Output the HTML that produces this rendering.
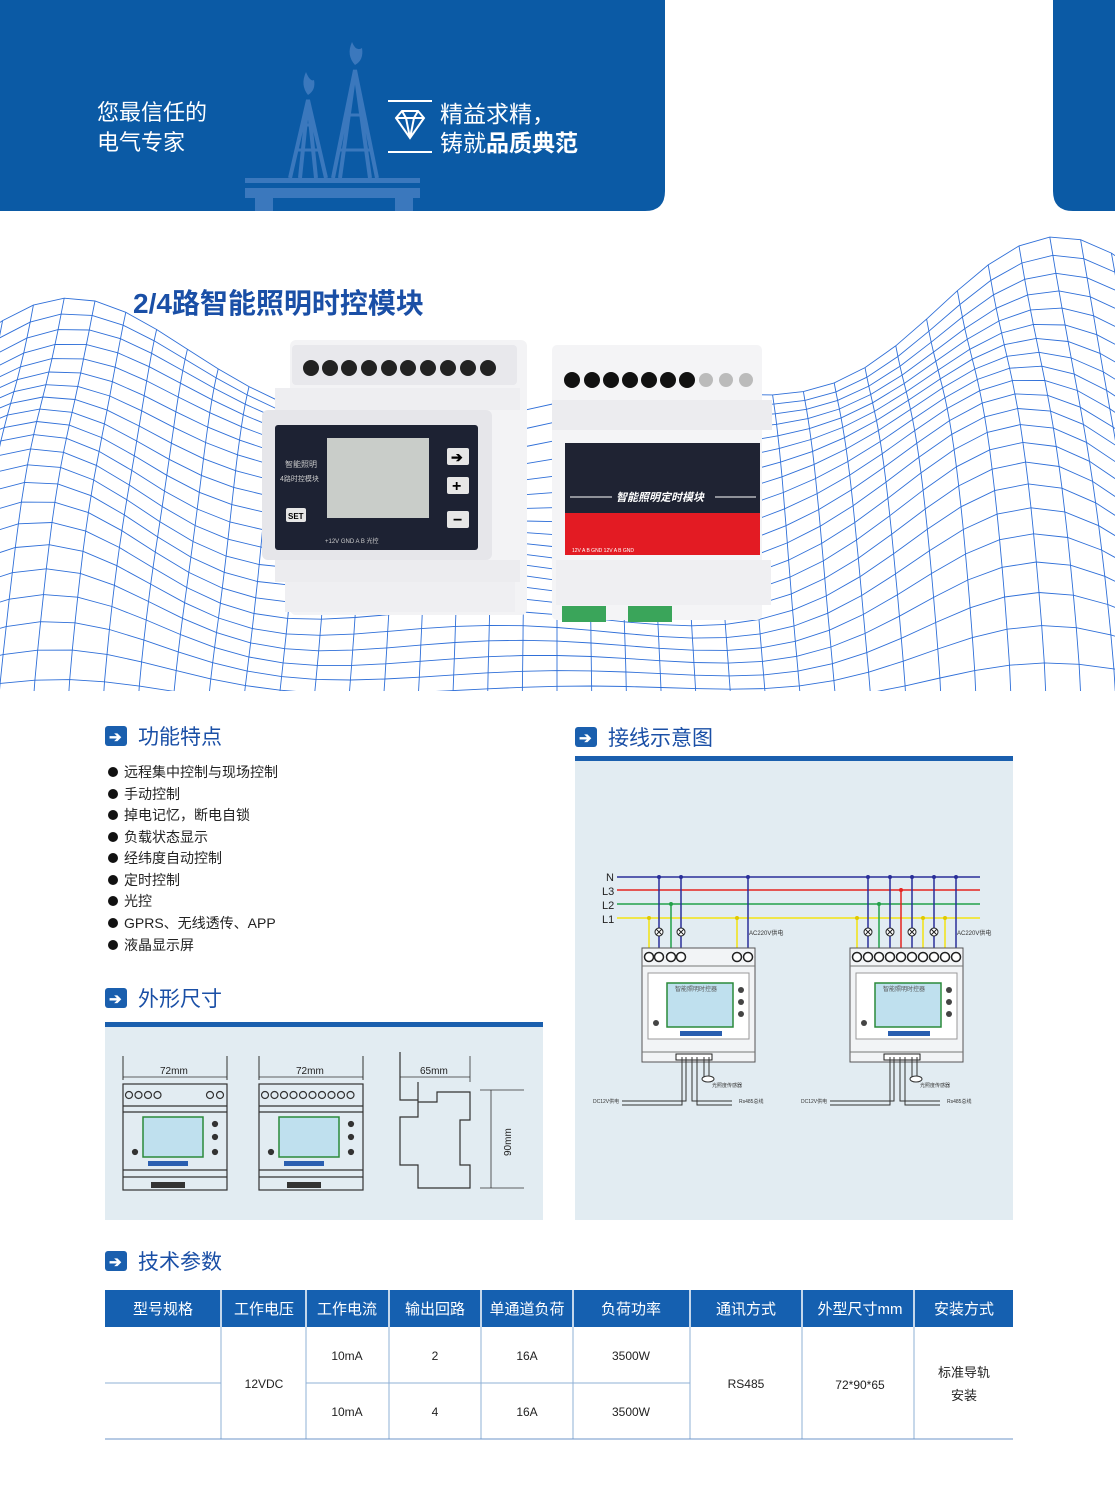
<!DOCTYPE html>
<html><head><meta charset="utf-8"><style>
html,body{margin:0;padding:0;background:#fff}
svg{display:block}
text{font-family:"Liberation Sans","Noto Sans CJK SC",sans-serif}
</style></head><body>
<svg id="s" width="1115" height="1500" viewBox="0 0 1115 1500" xmlns="http://www.w3.org/2000/svg">
<rect width="1115" height="1500" fill="#fff"/>
<path d="M0 0H665V191Q665 211 645 211H0Z" fill="#0b5aa5"/>
<path d="M1053 0H1115V211H1073Q1053 211 1053 191Z" fill="#0b5aa5"/>
<text x="97" y="120" fill="#fff" font-size="22">您最信任的</text>
<text x="97" y="150" fill="#fff" font-size="22">电气专家</text>
<g fill="#3b78bd" stroke="#3b78bd">
<rect x="245" y="188" width="175" height="10" stroke="none"/>
<rect x="255" y="198" width="18" height="13" stroke="none"/><rect x="395" y="198" width="18" height="13" stroke="none"/>
<rect x="245" y="178" width="175" height="5" stroke="none"/>
<path d="M300 178L308 100L316 178M290 178L308 100L326 178" fill="none" stroke-width="4"/>
<path d="M340 178L355 70L370 178M333 178L355 70L377 178" fill="none" stroke-width="4"/>
<path d="M296 150H320M302 125H314M338 150H372M345 115H365" stroke-width="3"/>
<path d="M308 95Q300 85 306 72Q310 82 314 80Q316 90 308 95Z" stroke="none"/>
<path d="M355 65Q346 55 352 42Q356 52 362 48Q364 60 355 65Z" stroke="none"/>
</g>
<g stroke="#fff" fill="none" stroke-width="2">
<line x1="388" y1="101" x2="432" y2="101"/><line x1="388" y1="152" x2="432" y2="152"/>
<path d="M396 118L402 111H418L424 118L410 138Z M396 118H424 M402 111L406 118L410 138L414 118L418 111"/>
</g>
<text x="440" y="122" fill="#fff" font-size="23">精益求精，</text>
<text x="440" y="151" fill="#fff" font-size="23">铸就<tspan font-weight="bold">品质典范</tspan></text>
<g id="mesh" fill="none" stroke="#2f6fd8" stroke-width="0.9"></g>
<text x="133" y="313" fill="#1a4fa6" font-size="28" font-weight="bold">2/4路智能照明时控模块</text>
<g>
<rect x="290" y="340" width="237" height="275" rx="6" fill="#f3f3f5"/>
<rect x="292" y="345" width="225" height="40" rx="4" fill="#e8e8ec"/>
<g fill="#222">
<circle cx="311" cy="368" r="8"/><circle cx="330" cy="368" r="8"/><circle cx="349" cy="368" r="8"/><circle cx="369" cy="368" r="8"/><circle cx="389" cy="368" r="8"/><circle cx="408" cy="368" r="8"/><circle cx="428" cy="368" r="8"/><circle cx="448" cy="368" r="8"/><circle cx="468" cy="368" r="8"/><circle cx="488" cy="368" r="8"/></g>
<rect x="275" y="388" width="245" height="22" fill="#eeeef1"/>
<rect x="262" y="410" width="230" height="150" rx="6" fill="#e6e6ea"/>
<rect x="275" y="425" width="203" height="125" rx="3" fill="#1d2233"/>
<rect x="327" y="438" width="102" height="80" fill="#c9cdc9"/>
<text x="285" y="467" fill="#ccc" font-size="8">智能照明</text>
<text x="280" y="481" fill="#ccc" font-size="7">4路时控模块</text>
<rect x="286" y="508" width="20" height="14" rx="2" fill="#e6e6e6"/><text x="288" y="519" font-size="8" font-weight="bold">SET</text>
<rect x="447" y="448" width="22" height="17" rx="2" fill="#e6e6e6"/><rect x="447" y="477" width="22" height="17" rx="2" fill="#e6e6e6"/><rect x="447" y="511" width="22" height="17" rx="2" fill="#e6e6e6"/>
<text x="451" y="462" font-size="14" font-weight="bold">➔</text><text x="452" y="491" font-size="16" font-weight="bold">+</text><text x="453" y="525" font-size="16" font-weight="bold">−</text>
<text x="325" y="543" fill="#ccc" font-size="6">+12V GND  A  B     光控</text>
<rect x="275" y="560" width="245" height="22" fill="#ececef"/>
<rect x="285" y="582" width="230" height="30" fill="#efeff2"/>
</g>
<g>
<rect x="552" y="345" width="210" height="275" rx="5" fill="#f4f4f6"/>
<g fill="#111"><circle cx="572" cy="380" r="8"/><circle cx="592" cy="380" r="8"/><circle cx="611" cy="380" r="8"/><circle cx="630" cy="380" r="8"/><circle cx="649" cy="380" r="8"/><circle cx="668" cy="380" r="8"/><circle cx="687" cy="380" r="8"/></g>
<circle cx="706" cy="380" r="7" fill="#bbb"/><circle cx="726" cy="380" r="7" fill="#bbb"/><circle cx="746" cy="380" r="7" fill="#bbb"/>
<rect x="552" y="400" width="220" height="30" fill="#ececef"/>
<rect x="565" y="443" width="195" height="70" fill="#1f2333"/>
<rect x="565" y="513" width="195" height="42" fill="#e31b23"/>
<line x1="570" y1="497" x2="612" y2="497" stroke="#fff"/><line x1="715" y1="497" x2="756" y2="497" stroke="#fff"/>
<text x="616" y="501" fill="#fff" font-size="11" font-weight="bold" font-style="italic">智能照明定时模块</text>
<text x="572" y="552" fill="#fff" font-size="5">12V  A   B  GND      12V  A   B  GND</text>
<rect x="556" y="560" width="215" height="45" fill="#efeff2"/>
<rect x="562" y="606" width="44" height="16" fill="#3aa55a"/><rect x="628" y="606" width="44" height="16" fill="#3aa55a"/>
</g>
<g font-size="21" fill="#1a4fa6">
<rect x="105" y="726" width="22" height="20" rx="3" fill="#1a5fae"/><text x="109" y="742" fill="#fff" font-size="15" font-weight="bold">➔</text><text x="138" y="744">功能特点</text>
<rect x="105" y="988" width="22" height="20" rx="3" fill="#1a5fae"/><text x="109" y="1004" fill="#fff" font-size="15" font-weight="bold">➔</text><text x="138" y="1006">外形尺寸</text>
<rect x="575" y="727" width="22" height="20" rx="3" fill="#1a5fae"/><text x="579" y="743" fill="#fff" font-size="15" font-weight="bold">➔</text><text x="608" y="745">接线示意图</text>
<rect x="105" y="1251" width="22" height="20" rx="3" fill="#1a5fae"/><text x="109" y="1267" fill="#fff" font-size="15" font-weight="bold">➔</text><text x="138" y="1269">技术参数</text>
</g>
<g font-size="14" fill="#222">
<g fill="#111"><circle cx="113" cy="772" r="5"/><circle cx="113" cy="794" r="5"/><circle cx="113" cy="815" r="5"/><circle cx="113" cy="837" r="5"/><circle cx="113" cy="858" r="5"/><circle cx="113" cy="880" r="5"/><circle cx="113" cy="901" r="5"/><circle cx="113" cy="923" r="5"/><circle cx="113" cy="945" r="5"/></g>
<text x="124" y="777">远程集中控制与现场控制</text>
<text x="124" y="799">手动控制</text>
<text x="124" y="820">掉电记忆，断电自锁</text>
<text x="124" y="842">负载状态显示</text>
<text x="124" y="863">经纬度自动控制</text>
<text x="124" y="885">定时控制</text>
<text x="124" y="906">光控</text>
<text x="124" y="928">GPRS、无线透传、APP</text>
<text x="124" y="950">液晶显示屏</text>
</g>
<rect x="105" y="1022" width="438" height="5" fill="#1a5fae"/>
<rect x="105" y="1027" width="438" height="193" fill="#e2ecf2"/>
<g id="dims" stroke="#333" fill="none" stroke-width="1.2"></g>
<text x="160" y="1074" font-size="10" fill="#222">72mm</text>
<text x="296" y="1074" font-size="10" fill="#222">72mm</text>
<text x="420" y="1074" font-size="10" fill="#222">65mm</text>
<text x="0" y="0" font-size="10" fill="#222" transform="translate(511 1156) rotate(-90)">90mm</text>
<rect x="575" y="756" width="438" height="5" fill="#1a5fae"/>
<rect x="575" y="761" width="438" height="459" fill="#e2ecf2"/>
<g id="wire"></g>
<g font-size="11" fill="#222"><text x="606" y="881">N</text><text x="602" y="895">L3</text><text x="602" y="909">L2</text><text x="602" y="923">L1</text></g>
<rect x="105" y="1290" width="908" height="37" fill="#1560b0"/>
<g font-size="15" fill="#fff" text-anchor="middle">
<text x="163" y="1314">型号规格</text><text x="264" y="1314">工作电压</text><text x="347" y="1314">工作电流</text><text x="435" y="1314">输出回路</text><text x="527" y="1314">单通道负荷</text><text x="631" y="1314">负荷功率</text><text x="746" y="1314">通讯方式</text><text x="860" y="1314">外型尺寸mm</text><text x="964" y="1314">安装方式</text>
</g>
<g stroke="#fff" stroke-width="1.5"><line x1="221" y1="1290" x2="221" y2="1327"/><line x1="306" y1="1290" x2="306" y2="1327"/><line x1="389" y1="1290" x2="389" y2="1327"/><line x1="481" y1="1290" x2="481" y2="1327"/><line x1="573" y1="1290" x2="573" y2="1327"/><line x1="690" y1="1290" x2="690" y2="1327"/><line x1="802" y1="1290" x2="802" y2="1327"/><line x1="914" y1="1290" x2="914" y2="1327"/></g>
<g stroke="#8fb0d6" stroke-width="1">
<line x1="221" y1="1327" x2="221" y2="1439"/><line x1="306" y1="1327" x2="306" y2="1439"/><line x1="389" y1="1327" x2="389" y2="1439"/><line x1="481" y1="1327" x2="481" y2="1439"/><line x1="573" y1="1327" x2="573" y2="1439"/><line x1="690" y1="1327" x2="690" y2="1439"/><line x1="802" y1="1327" x2="802" y2="1439"/><line x1="914" y1="1327" x2="914" y2="1439"/>
<line x1="105" y1="1383" x2="221" y2="1383"/><line x1="306" y1="1383" x2="690" y2="1383"/>
<line x1="105" y1="1439" x2="1013" y2="1439" stroke="#6d95c9"/>
</g>
<g font-size="12" fill="#222" text-anchor="middle">
<text x="347" y="1360">10mA</text><text x="435" y="1360">2</text><text x="527" y="1360">16A</text><text x="631" y="1360">3500W</text>
<text x="347" y="1416">10mA</text><text x="435" y="1416">4</text><text x="527" y="1416">16A</text><text x="631" y="1416">3500W</text>
<text x="264" y="1388">12VDC</text><text x="746" y="1388">RS485</text><text x="860" y="1389">72*90*65</text>
<text x="964" y="1377" font-size="13">标准导轨</text><text x="964" y="1400" font-size="13">安装</text>
</g>
</svg>
<script>
var NS="http://www.w3.org/2000/svg";
function el(p,t,a){var e=document.createElementNS(NS,t);for(var k in a)e.setAttribute(k,a[k]);p.appendChild(e);return e;}
(function(){
var g=document.getElementById('mesh');
var NU=40,NV=22,P=[];
function H(x,v){
 var a=185*Math.exp(-Math.pow((x-50)/150,2))*(0.75+0.25*Math.sin(v*4));
 var b=260*Math.exp(-Math.pow((x-1040)/170,2))*(0.8+0.2*Math.sin(v*3+1));
 var c=18*Math.sin(x/80+v*6);
 return a+b+c+10;
}
for(var i=0;i<=NU;i++){P[i]=[];for(var j=0;j<=NV;j++){
 var u=i/NU,v=j/NV;
 var s=1-0.12*v;
 var x=557+(u-0.5)*1400*s;
 var y=720-v*300-H(x,v)*Math.pow(v,0.6);
 P[i][j]=[x.toFixed(1),y.toFixed(1)];
}}
for(var i=0;i<=NU;i++){var d="M"+P[i].map(function(p){return p.join(" ")}).join("L");el(g,'path',{d:d});}
for(var j=0;j<=NV;j++){var pts=[];for(var i=0;i<=NU;i++)pts.push(P[i][j].join(" "));el(g,'path',{d:"M"+pts.join("L")});}
var cp=el(document.getElementById('s'),'clipPath',{id:'mc'});el(cp,'rect',{x:0,y:225,width:1115,height:466});
g.setAttribute('clip-path','url(#mc)');
})();
(function(){
var g=document.getElementById('dims');
function dev(x,n){
 el(g,'rect',{x:x,y:1084,width:104,height:106});
 el(g,'line',{x1:x,y1:1106,x2:x+104,y2:1106});el(g,'line',{x1:x,y1:1112,x2:x+104,y2:1112});
 el(g,'line',{x1:x,y1:1170,x2:x+104,y2:1170});el(g,'line',{x1:x,y1:1177,x2:x+104,y2:1177});
 el(g,'line',{x1:x,y1:1056,x2:x,y2:1080,'stroke-width':1});el(g,'line',{x1:x+104,y1:1056,x2:x+104,y2:1080,'stroke-width':1});
 el(g,'line',{x1:x,y1:1077,x2:x+104,y2:1077,'stroke-width':0.8});
 for(var k=0;k<n;k++)el(g,'circle',{cx:x+6+k*9.5,cy:1095,r:3.5});
 if(n==4){el(g,'circle',{cx:x+87,cy:1095,r:3.5});el(g,'circle',{cx:x+97,cy:1095,r:3.5});}
 el(g,'rect',{x:x+20,y:1117,width:60,height:40,stroke:'#2a8a3a','stroke-width':1.5,fill:'#bfe0ee'});
 el(g,'rect',{x:x+25,y:1161,width:40,height:5,fill:'#2a5fb0',stroke:'none'});
 el(g,'rect',{x:x+28,y:1182,width:34,height:6,fill:'#333',stroke:'none'});
 el(g,'circle',{cx:x+92,cy:1124,r:2.5,fill:'#333'});el(g,'circle',{cx:x+92,cy:1137,r:2.5,fill:'#333'});el(g,'circle',{cx:x+92,cy:1152,r:2.5,fill:'#333'});
 el(g,'circle',{cx:x+12,cy:1152,r:2.5,fill:'#333'});
}
dev(123,4);dev(259,10);
el(g,'path',{d:'M400 1052V1100H418V1117H400V1165H418V1188H470V1165H460V1120H470V1092H437V1102H418V1082'});
el(g,'line',{x1:400,y1:1077,x2:470,y2:1077,'stroke-width':0.8});el(g,'line',{x1:470,y1:1056,x2:470,y2:1082,'stroke-width':0.8});
el(g,'line',{x1:480,y1:1090,x2:524,y2:1090,'stroke-width':0.8});el(g,'line',{x1:480,y1:1188,x2:524,y2:1188,'stroke-width':0.8});el(g,'line',{x1:491,y1:1090,x2:491,y2:1188,'stroke-width':0.8});
})();
(function(){
var g=document.getElementById('wire');
var Y={N:877,L3:890,L2:904,L1:918},C={N:'#2a2f9a',L3:'#e52420',L2:'#22a24a',L1:'#f3e312'};
for(var k in Y)el(g,'line',{x1:617,y1:Y[k],x2:980,y2:Y[k],stroke:C[k],'stroke-width':1.5});
function dev(x,cols,n){
 cols.forEach(function(c){
  var cx=x+c[0],l=c[1],lamp=c[2];
  el(g,'line',{x1:cx,y1:Y[l],x2:cx,y2:957,stroke:C[l],'stroke-width':1.5});
  el(g,'circle',{cx:cx,cy:Y[l],r:2,fill:C[l]=='#f3e312'?'#e0c800':C[l]});
  if(lamp){el(g,'circle',{cx:cx,cy:932,r:4,fill:'#fff',stroke:'#222'});el(g,'path',{d:'M'+(cx-3)+' 929l6 6m0 -6l-6 6',stroke:'#222'});}
 });
 el(g,'rect',{x:x,y:948,width:113,height:114,fill:'#f2f4f6',stroke:'#555'});
 el(g,'line',{x1:x,y1:966,x2:x+113,y2:966,stroke:'#777'});el(g,'line',{x1:x,y1:1052,x2:x+113,y2:1052,stroke:'#777'});
 cols.forEach(function(c){el(g,'circle',{cx:x+c[0],cy:957,r:4.5,fill:'#fff',stroke:'#222','stroke-width':1.5});});
 el(g,'rect',{x:x+6,y:973,width:101,height:66,fill:'#fff',stroke:'#999'});
 el(g,'rect',{x:x+25,y:983,width:66,height:44,fill:'#bfe0ee',stroke:'#2a8a3a','stroke-width':1.5});
 el(g,'rect',{x:x+38,y:1031,width:42,height:5,fill:'#2a5fb0'});
 [1,2,3].forEach(function(i){el(g,'circle',{cx:x+99,cy:978+i*12,r:3,fill:'#444'});});
 el(g,'circle',{cx:x+14,cy:1023,r:3,fill:'#444'});
 el(g,'rect',{x:x+34,y:1054,width:36,height:6,fill:'#fff',stroke:'#222'});
 var t=el(g,'text',{x:x+33,y:991,'font-size':6,fill:'#555'});t.textContent='智能照明时控器';
 [[x+40,1057,x+40,1105,x-20,1105],[x+44,1057,x+44,1101,x-20,1101],[x+50,1057,x+50,1101,x+90,1101],[x+55,1057,x+55,1105,x+90,1105]].forEach(function(p){el(g,'path',{d:'M'+p[0]+' '+p[1]+'V'+p[3]+'H'+p[4],fill:'none',stroke:'#333'});});
 el(g,'path',{d:'M'+(x+62)+' 1057v20m5 -20v20',stroke:'#333'});
 el(g,'ellipse',{cx:x+66,cy:1079,rx:6,ry:3,fill:'#fff',stroke:'#333'});
 var a=el(g,'text',{x:x+70,y:1087,'font-size':5,fill:'#333'});a.textContent='光照度传感器';
 var b=el(g,'text',{x:x-49,y:1103,'font-size':5,fill:'#333'});b.textContent='DC12V供电';
 var c2=el(g,'text',{x:x+97,y:1103,'font-size':5,fill:'#333'});c2.textContent='Rs485总线';
 var d=el(g,'text',{x:x+107,y:935,'font-size':6,fill:'#333'});d.textContent='AC220V供电';
}
dev(642,[[7,'L1'],[17,'N',1],[29,'L2'],[39,'N',1],[95,'L1'],[106,'N']]);
dev(850,[[7,'L1'],[18,'N',1],[29,'L2'],[40,'N',1],[51,'L3'],[62,'N',1],[73,'L1'],[84,'N',1],[95,'L1'],[106,'N']]);
})();
</script>
</body></html>
